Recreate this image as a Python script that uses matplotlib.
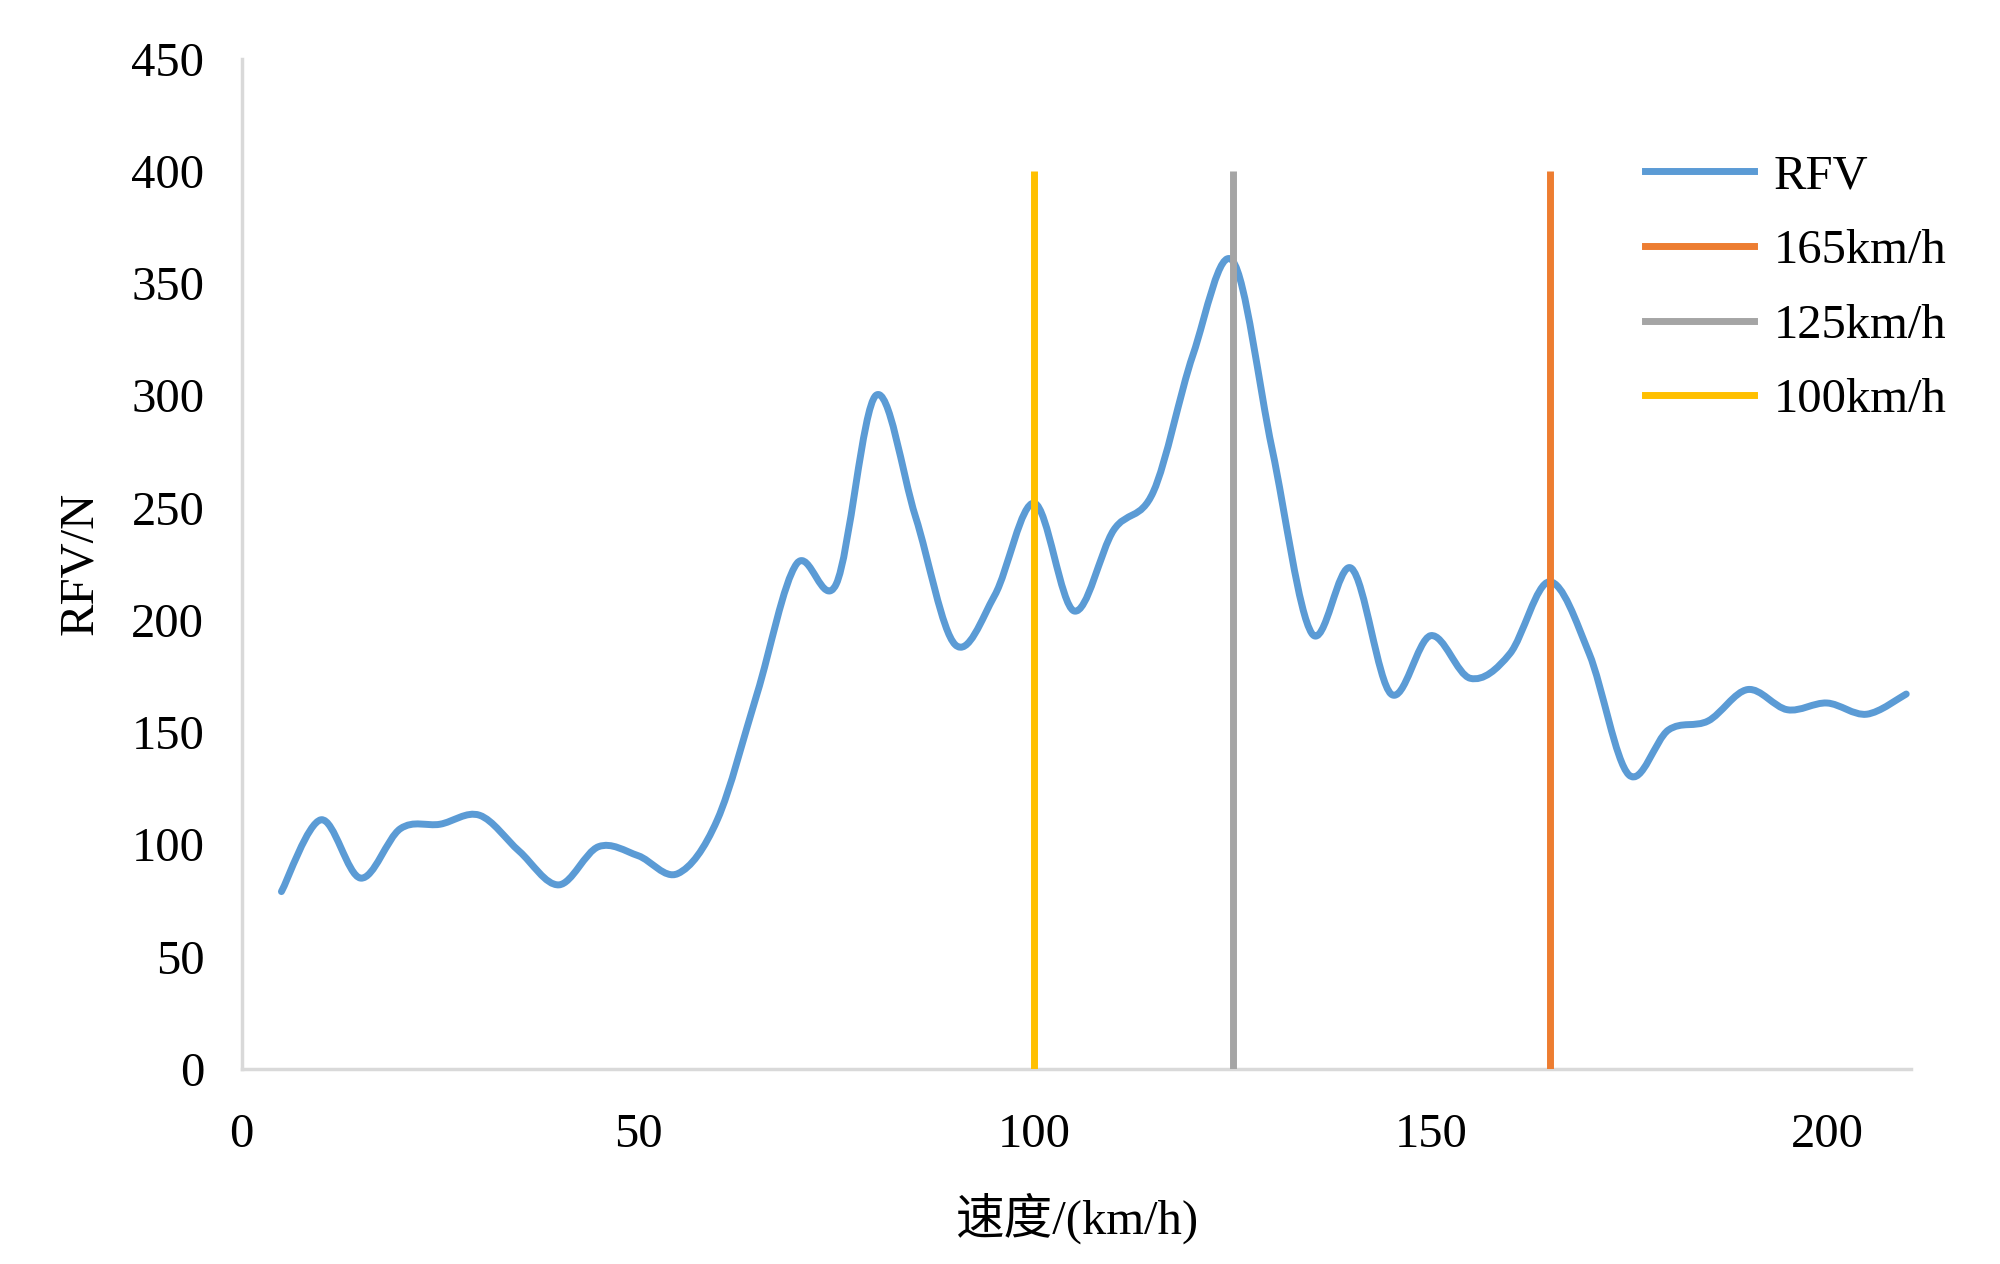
import matplotlib
matplotlib.use('Agg')
import matplotlib.pyplot as plt
import numpy as np
from matplotlib.path import Path
from matplotlib.patches import PathPatch
from matplotlib.lines import Line2D

plt.rcParams['font.family'] = ['Liberation Serif', 'Noto Sans CJK SC']

# speed (km/h) and measured RFV (N)
speed = [5, 10, 15, 20, 25, 30, 35, 40, 45, 50, 55, 60, 65, 70,
         75, 80, 85, 90, 95, 100, 105, 110, 115, 120, 125, 130, 135, 140,
         145, 150, 155, 160, 165, 170, 175, 180, 185, 190, 195, 200, 205, 210]
rfv = [79, 111, 85, 107, 109, 113, 97, 82, 99, 95, 87, 111, 167, 225,
       216, 300, 246, 189, 211, 252, 204, 240, 257, 318, 360, 276, 194, 223,
       167, 193, 174, 185, 217, 185, 131, 151, 155, 169, 160, 163, 158, 167]

marker_speeds = [165, 125, 100]
marker_labels = ['165km/h', '125km/h', '100km/h']
marker_colors = ['#ED7D31', '#A5A5A5', '#FFC000']
marker_top = 400

x_ticks = [0, 50, 100, 150, 200]
y_ticks = [0, 50, 100, 150, 200, 250, 300, 350, 400, 450]

BLUE = '#5B9BD5'
LW = 5


def smooth_path(x, y):
    # Excel-style smoothed line: cubic Bezier segments through every point
    pts = np.column_stack([x, y]).astype(float)
    padded = np.vstack([pts[0], pts, pts[-1]])
    verts = [pts[0]]
    codes = [Path.MOVETO]
    for i in range(len(pts) - 1):
        p0, p1, p2, p3 = padded[i], padded[i + 1], padded[i + 2], padded[i + 3]
        verts += [p1 + (p2 - p0) / 6, p2 - (p3 - p1) / 6, p2]
        codes += [Path.CURVE4] * 3
    return Path(verts, codes)


fig = plt.figure(figsize=(20, 12.64), dpi=100)
ax = fig.add_axes([0.1209, 0.1543, 0.8346, 0.7993])

ax.add_patch(PathPatch(smooth_path(speed, rfv), fill=False, edgecolor=BLUE,
                       linewidth=LW, capstyle='round', joinstyle='round', zorder=2))

for s, c in zip(marker_speeds, marker_colors):
    ax.vlines(s, 0, marker_top, colors=c, linewidth=LW, zorder=3)

ax.set_xlim(0, 210.6)
ax.set_ylim(0, 450)
ax.set_xticks(x_ticks)
ax.set_yticks(y_ticks)
ax.tick_params(axis='both', length=0, labelsize=35)
ax.tick_params(axis='x', pad=32)
ax.tick_params(axis='y', pad=27)

for side in ['top', 'right']:
    ax.spines[side].set_visible(False)
for side in ['left', 'bottom']:
    ax.spines[side].set_color('#D9D9D9')
    ax.spines[side].set_linewidth(2.5)

ax.set_xlabel('速度/(km/h)', fontsize=35, labelpad=25)
ax.set_ylabel('RFV/N', fontsize=35, labelpad=21)

handles = [Line2D([], [], color=BLUE, linewidth=LW)]
handles += [Line2D([], [], color=c, linewidth=LW) for c in marker_colors]
labels = ['RFV'] + marker_labels
fig.legend(handles, labels, loc='upper left', bbox_to_anchor=(0.8225, 0.878),
           frameon=False, fontsize=35, handlelength=2.25, handletextpad=0.4,
           labelspacing=0.63, borderpad=0, borderaxespad=0)

fig.savefig('out.png', dpi=100)
